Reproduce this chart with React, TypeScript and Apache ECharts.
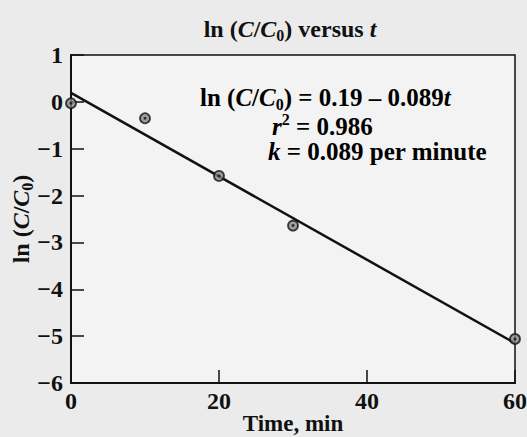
import React, { useEffect, useRef } from "react";
import * as echarts from "echarts";

const times = [0, 10, 20, 30, 60];
const lnRatio = [-0.03, -0.35, -1.58, -2.64, -5.06];
const fitIntercept = 0.19;
const fitSlope = -0.089;
const fitEnds = [0, 60];
const xTicks = [0, 20, 40, 60];
const yRange = [-6, 1];

const FONT = "'Liberation Serif', 'DejaVu Serif', serif";

export default function App() {
  const ref = useRef<HTMLDivElement>(null);
  useEffect(() => {
    document.body.style.margin = "0";
    const chart = echarts.init(ref.current!, null, { renderer: "svg" });
    const fitLine = fitEnds.map((t) => [t, fitIntercept + fitSlope * t]);
    const mk = (fs: number) => ({
      n: { fontFamily: FONT, fontWeight: "bold", fontSize: fs, color: "#111", lineHeight: fs + 5 },
      i: { fontFamily: FONT, fontWeight: "bold", fontStyle: "italic", fontSize: fs, color: "#111", lineHeight: fs + 5 },
      sub: { fontFamily: FONT, fontWeight: "bold", fontSize: Math.round(fs * 0.65), color: "#111", verticalAlign: "bottom", lineHeight: fs - 1, padding: [8, 0, 0, 0] },
      sup: { fontFamily: FONT, fontWeight: "bold", fontSize: Math.round(fs * 0.65), color: "#111", verticalAlign: "top", lineHeight: fs - 1, padding: [0, 0, 8, 0] },
    });
    const rich25 = mk(25);
    chart.setOption({
      animation: false,
      backgroundColor: "#ebebeb",
      title: {
        text: "{n|ln (}{i|C}{n|/}{i|C}{sub|0}{n|) versus }{i|t}",
        left: 285,
        textAlign: "center",
        top: 9,
        textStyle: { rich: mk(24) as any },
      },
      grid: {
        left: 71,
        right: 12,
        top: 55,
        bottom: 54,
        outerBoundsMode: "none",
        containLabel: false,
        show: true,
        backgroundColor: "#f3f3f3",
        borderColor: "#111",
        borderWidth: 1.5,
      },
      xAxis: {
        type: "value",
        min: xTicks[0],
        max: xTicks[xTicks.length - 1],
        interval: 20,
        name: "Time, min",
        nameLocation: "middle",
        nameGap: 30,
        nameMoveOverlap: false,
        nameTextStyle: { fontFamily: FONT, fontWeight: "bold", fontSize: 23, color: "#111", lineHeight: 20 },
        axisLine: { show: true, onZero: false, lineStyle: { color: "#111", width: 2 } },
        axisTick: { show: true, inside: true, length: 13, lineStyle: { color: "#111", width: 1.5 } },
        axisLabel: { fontFamily: FONT, fontWeight: "bold", fontSize: 24, color: "#111", margin: 6 },
        splitLine: { show: false },
      },
      yAxis: {
        type: "value",
        min: yRange[0],
        max: yRange[1],
        interval: 1,
        name: "{n|ln (}{i|C}{n|/}{i|C}{sub|0}{n|)}",
        nameLocation: "middle",
        nameRotate: 90,
        nameGap: 36,
        nameMoveOverlap: false,
        nameTextStyle: { rich: mk(24) as any },
        axisLine: { show: true, onZero: false, lineStyle: { color: "#111", width: 2 } },
        axisTick: { show: true, inside: true, length: 13, lineStyle: { color: "#111", width: 1.5 } },
        axisLabel: {
          fontFamily: FONT,
          fontWeight: "bold",
          fontSize: 24,
          color: "#111",
          margin: 8,
          formatter: (v: number) => String(v).replace("-", "\u2212"),
        },
        splitLine: { show: false },
      },
      graphic: [
        {
          type: "text",
          left: 200,
          top: 85,
          style: { text: "{n|ln (}{i|C}{n|/}{i|C}{sub|0}{n|) = 0.19 \u2013 0.089}{i|t}", rich: rich25 as any },
        },
        {
          type: "text",
          left: 272,
          top: 111,
          style: { text: "{i|r}{sup|2}{n| = 0.986}", rich: rich25 as any },
        },
        {
          type: "text",
          left: 268,
          top: 139,
          style: { text: "{i|k}{n| = 0.089 per minute}", rich: rich25 as any },
        },
      ],
      series: [
        {
          type: "line",
          data: fitLine,
          symbol: "none",
          lineStyle: { color: "#111", width: 2.5 },
          z: 2,
        },
        {
          type: "scatter",
          data: times.map((t, k) => [t, lnRatio[k]]),
          symbol: "circle",
          symbolSize: 10,
          itemStyle: { color: "#8a8a8a", borderColor: "#111", borderWidth: 1.8 },
          z: 3,
        },
        {
          type: "scatter",
          data: times.map((t, k) => [t, lnRatio[k]]),
          symbol: "circle",
          symbolSize: 3,
          itemStyle: { color: "#111" },
          z: 4,
        },
      ],
    });
    return () => chart.dispose();
  }, []);
  return <div ref={ref} style={{ width: 527, height: 437 }} />;
}
